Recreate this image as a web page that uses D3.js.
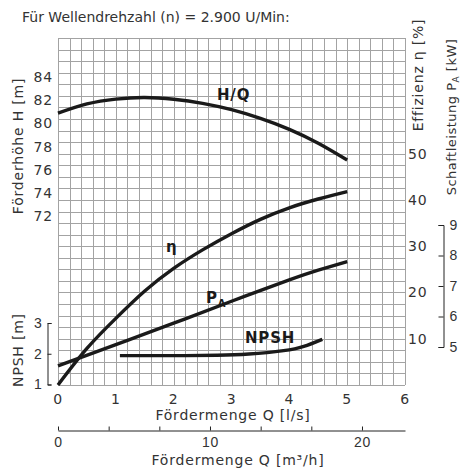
<!DOCTYPE html>
<meta charset="utf-8">
<title>Pumpenkennlinie</title>
<style>
  body { margin: 0; background: #fff; }
  svg { display: block; font-family: "DejaVu Sans", sans-serif; }
  .grid line { stroke: #a3a3a3; stroke-width: 1; shape-rendering: crispEdges; }
  .curve { fill: none; stroke: #1a1a1a; stroke-width: 3.4; }
  .lbl { fill: #333; font-size: 14px; letter-spacing: 0.8px; }
  .bold { fill: #1a1a1a; font-size: 15px; font-weight: bold; letter-spacing: 0.8px; }
  .axis path, .axis line { stroke: #222; }
</style>
<svg id="chart" width="461" height="473"></svg>
<script src="https://cdn.jsdelivr.net/npm/d3@7"></script>
<script>
// Kennlinien
var qH = [0, 0.5, 1, 1.5, 2, 2.5, 3, 3.5, 4, 4.5, 5];
var hVals = [80.9, 81.7, 82.12, 82.25, 82.1, 81.75, 81.2, 80.45, 79.5, 78.3, 76.85];

var qEta = [0, 0.5, 1, 1.5, 2, 2.5, 3, 3.5, 4, 4.5, 5];
var etaVals = [0, 7.9, 14.4, 20.3, 25.2, 29.2, 32.7, 35.8, 38.3, 40.2, 41.8];

var qP = [0, 1, 2, 3, 4, 4.5, 5];
var pVals = [4.38, 5.08, 5.78, 6.5, 7.2, 7.52, 7.8];

var qN = [1.07, 1.6, 2.2, 2.75, 3.3, 3.9, 4.25, 4.57];
var npshVals = [1.94, 1.94, 1.94, 1.95, 1.99, 2.1, 2.24, 2.47];

var qTicks = [0, 1, 2, 3, 4, 5, 6];
var hTicks = [72, 74, 76, 78, 80, 82, 84];
var etaTicks = [10, 20, 30, 40, 50];
var pTicks = [5, 6, 7, 8, 9];
var npshTicks = [1, 2, 3];
var m3Ticks = [0, 10/3, 20/3, 10, 40/3, 50/3, 20];

var svg = d3.select('#chart');

var x = d3.scaleLinear().domain([0, 6]).range([58, 405]);
var xm = d3.scaleLinear().domain([0, 22.83]).range([58, 405]);
var yEta = d3.scaleLinear().domain([0, 75]).range([385, 38]);
var yH = d3.scaleLinear().domain([57.4, 87.4]).range([385, 38]);
var yP = d3.scaleLinear().domain([5, 9]).range([347, 225]);
var yN = d3.scaleLinear().domain([1, 3]).range([384.5, 323]);

// raster
var grid = svg.append('g').attr('class', 'grid');
grid.selectAll('.v').data(d3.range(0, 31).map(function(i) { return i * 0.2 }))
  .enter().append('line')
  .attr('x1', d => Math.round(x(d)) + 0.5).attr('x2', d => Math.round(x(d)) + 0.5)
  .attr('y1', yEta(75)).attr('y2', yEta(0))
grid.selectAll('.h').data(d3.range(0, 31).map(function(i) { return i * 2.5 }))
  .enter().append('line')
  .attr('y1', d => Math.round(yEta(d)) + 0.5).attr('y2', d => Math.round(yEta(d)) + 0.5)
  .attr('x1', x(0)).attr('x2', x(6))

// Q [l/s] Beschriftung
svg.append('g').selectAll('text').data(qTicks).enter().append('text')
  .attr('class', 'lbl').attr('text-anchor', 'middle')
  .attr('x', d => x(d)).attr('y', 404)
  .text(d => d)

// H Beschriftung
svg.append('g').selectAll('text').data(hTicks).enter().append('text')
  .attr('class', 'lbl').attr('text-anchor', 'end').attr('dy', '0.35em')
  .attr('x', 53).attr('y', d => yH(d))
  .text(d => d)

// Effizienz Beschriftung
svg.append('g').selectAll('text').data(etaTicks).enter().append('text')
  .attr('class', 'lbl').attr('dy', '0.35em')
  .attr('x', 408).attr('y', d => yEta(d))
  .text(d => d)

function styleTicks(g) {
  g.selectAll('text').attr('class', 'lbl').attr('font-size', null).attr('font-family', null).attr('fill', null);
}

// NPSH Achse
svg.append('g').attr('class', 'axis')
  .attr('transform', 'translate(47.5,0)')
  .call(d3.axisLeft(yN).tickValues(npshTicks).tickSize(-4).tickPadding(5).tickFormat(d3.format('d')))
  .call(styleTicks)

// Schaftleistung Achse
svg.append('g').attr('class', 'axis')
  .attr('transform', 'translate(443.5,0)')
  .call(d3.axisRight(yP).tickValues(pTicks).tickSize(-5).tickPadding(6).tickFormat(d3.format('d')))
  .call(styleTicks)

// m3/h Achse
svg.append('g').attr('class', 'axis')
  .attr('transform', 'translate(0,430.5)')
  .call(d3.axisBottom(xm).tickValues(m3Ticks).tickSizeInner(-4).tickSizeOuter(0).tickPadding(7)
    .tickFormat(d => (Math.abs(d % 10) < 1e-6 ? d : '')))
  .call(styleTicks)

// Kurven
function drawCurve(qs, vs, ys) {
  var line = d3.line()
    .x(function(d, i) { return x(qs[i]) })
    .y(function(d) { return ys(d) })
    .curve(d3.curveNatural);
  svg.append('path').attr('class', 'curve').attr('d', line(vs));
}
drawCurve(qH, hVals, yH);
drawCurve(qEta, etaVals, yEta);
drawCurve(qP, pVals, yP);
drawCurve(qN, npshVals, yN);

// Kurvennamen
svg.append('text').attr('class', 'bold').attr('x', 217).attr('y', 100).text('H/Q');
svg.append('text').attr('class', 'bold').attr('x', 166).attr('y', 252).attr('font-size', 16).text('η');
var pa = svg.append('text').attr('class', 'bold').attr('x', 206).attr('y', 303).text('P');
pa.append('tspan').attr('font-size', 10).attr('dy', 4).text('A');
svg.append('text').attr('class', 'bold').attr('x', 245).attr('y', 343).text('NPSH');

// Titel und Achsentitel
svg.append('text').attr('class', 'lbl').attr('x', 22).attr('y', 22).style('letter-spacing', '0px')
  .text('Für Wellendrehzahl (n) = 2.900 U/Min:');
svg.append('text').attr('class', 'lbl').attr('text-anchor', 'middle')
  .attr('x', 233).attr('y', 420).text('Fördermenge Q [l/s]');
svg.append('text').attr('class', 'lbl').attr('text-anchor', 'middle')
  .attr('x', 238).attr('y', 465).text('Fördermenge Q [m³/h]');

function vtitle(cx, cy) {
  return svg.append('text').attr('class', 'lbl').attr('text-anchor', 'middle')
    .attr('dy', '0.35em')
    .attr('transform', 'translate(' + cx + ',' + cy + ') rotate(-90)');
}
vtitle(18, 146).text('Förderhöhe H [m]');
vtitle(18, 350).text('NPSH [m]');
vtitle(418, 75).text('Effizienz η [%]');
var sl = vtitle(451, 117).style('font-size', '13px').style('letter-spacing', '0.5px').text('Schaftleistung P');
sl.append('tspan').attr('font-size', 9).attr('dy', 3).text('A');
sl.append('tspan').attr('dy', -3).text(' [kW]');
</script>
